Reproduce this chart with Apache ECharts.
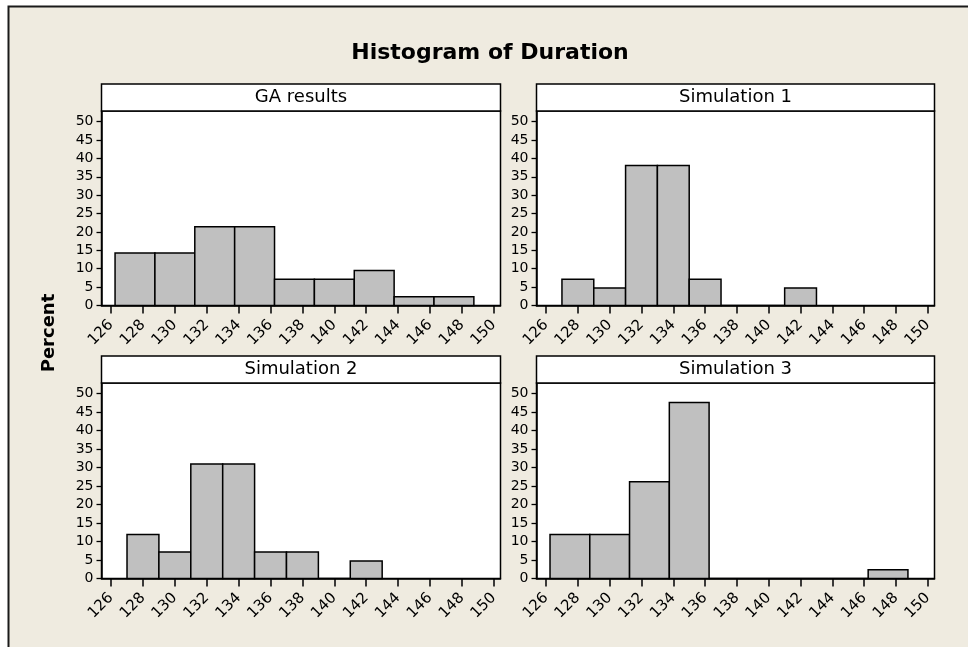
<!DOCTYPE html>
<html>
<head>
<meta charset="utf-8">
<script src="https://cdn.jsdelivr.net/npm/echarts@6/dist/echarts.min.js"></script>
<style>
  html, body { margin: 0; padding: 0; background: #ffffff; }
  #chart { width: 968px; height: 647px; }
</style>
</head>
<body>
<div id="chart"></div>
<script>
// ---- data ----
const chartTitle = 'Histogram of Duration';
const yAxisName = 'Percent';
const panelTitles = ['GA results', 'Simulation 1', 'Simulation 2', 'Simulation 3'];
const xTickValues = [126, 128, 130, 132, 134, 136, 138, 140, 142, 144, 146, 148, 150];
const yTickValues = [0, 5, 10, 15, 20, 25, 30, 35, 40, 45, 50];

// bin edges and percent of observations per bin (n = 42 runs each)
const gaEdges = [126.25, 128.75, 131.25, 133.75, 136.25, 138.75, 141.25, 143.75, 146.25, 148.75];
const gaPercent = [14.29, 14.29, 21.43, 21.43, 7.14, 7.14, 9.52, 2.38, 2.38];

const sim1Edges = [127, 129, 131, 133, 135, 137, 139, 141, 143];
const sim1Percent = [7.14, 4.76, 38.10, 38.10, 7.14, 0, 0, 4.76];

const sim2Edges = [127, 129, 131, 133, 135, 137, 139, 141, 143];
const sim2Percent = [11.90, 7.14, 30.95, 30.95, 7.14, 7.14, 0, 4.76];

const sim3Edges = [126.25, 128.75, 131.25, 133.75, 136.25, 138.75, 141.25, 143.75, 146.25, 148.75];
const sim3Percent = [11.90, 11.90, 26.19, 47.62, 0, 0, 0, 0, 2.38];

// ---- layout ----
const FONT = 'DejaVu Sans';
const xMin = 125.4, xMax = 150.42;
const yMin = 0, yMax = 52.9;
const stripH = 27;
const panels = [
  { left: 101.5, top: 111, width: 399, height: 194.5, edges: gaEdges, values: gaPercent },
  { left: 536.5, top: 111, width: 398, height: 194.5, edges: sim1Edges, values: sim1Percent },
  { left: 101.5, top: 383, width: 399, height: 195.5, edges: sim2Edges, values: sim2Percent },
  { left: 536.5, top: 383, width: 398, height: 195.5, edges: sim3Edges, values: sim3Percent }
];

function binRows(edges, values) {
  return values.map((v, i) => [edges[i], edges[i + 1], v]);
}

function renderBin(params, api) {
  const start = api.coord([api.value(0), api.value(2)]);
  const end = api.coord([api.value(1), 0]);
  return {
    type: 'rect',
    shape: { x: start[0], y: start[1], width: end[0] - start[0], height: end[1] - start[1] },
    style: { fill: '#c0c0c0', stroke: '#000000', lineWidth: 1.5 }
  };
}

const grids = [], xAxes = [], yAxes = [], series = [], graphics = [];

// beige page frame with dark top/left edge
graphics.push({
  type: 'rect', z: -10,
  shape: { x: 8.5, y: 6.5, width: 1000, height: 700 },
  style: { fill: '#efebe0', stroke: '#1a1a1a', lineWidth: 2 }
});
graphics.push({
  type: 'text', x: 490, y: 53,
  style: { text: chartTitle, font: 'bold 22px ' + FONT, fill: '#000', align: 'center', verticalAlign: 'middle' }
});
graphics.push({
  type: 'text', x: 49, y: 333, rotation: Math.PI / 2,
  style: { text: yAxisName, font: 'bold 18px ' + FONT, fill: '#000', align: 'center', verticalAlign: 'middle' }
});

panels.forEach((p, i) => {
  grids.push({
    left: p.left, top: p.top, width: p.width, height: p.height,
    show: true, backgroundColor: '#ffffff', borderColor: '#000000', borderWidth: 1.5
  });
  xAxes.push({
    type: 'value', gridIndex: i, min: xMin, max: xMax,
    axisLine: { show: true, onZero: false, lineStyle: { color: '#000', width: 1.5 } },
    axisTick: { show: true, customValues: xTickValues, length: 8, lineStyle: { color: '#000', width: 1.5 } },
    axisLabel: { customValues: xTickValues, rotate: 45, margin: 17, color: '#000', fontFamily: FONT, fontSize: 15 },
    splitLine: { show: false }
  });
  yAxes.push({
    type: 'value', gridIndex: i, min: yMin, max: yMax,
    axisLine: { show: true, lineStyle: { color: '#000', width: 1.5 } },
    axisTick: { show: true, customValues: yTickValues, length: 5, lineStyle: { color: '#000', width: 1.3 } },
    axisLabel: { customValues: yTickValues, margin: 8, color: '#000', fontFamily: FONT, fontSize: 14 },
    splitLine: { show: false }
  });
  series.push({
    type: 'custom', xAxisIndex: i, yAxisIndex: i,
    renderItem: renderBin,
    encode: { x: [0, 1], y: 2 },
    data: binRows(p.edges, p.values),
    silent: true, clip: false
  });
  // panel strip with its label
  graphics.push({
    type: 'rect', z: 5,
    shape: { x: p.left, y: p.top - stripH, width: p.width, height: stripH },
    style: { fill: '#ffffff', stroke: '#000000', lineWidth: 1.5 }
  });
  graphics.push({
    type: 'text', z: 6, x: p.left + p.width / 2, y: p.top - stripH / 2,
    style: { text: panelTitles[i], font: '18px ' + FONT, fill: '#000', align: 'center', verticalAlign: 'middle' }
  });
});

const chart = echarts.init(document.getElementById('chart'), null, { renderer: 'canvas' });
chart.setOption({
  backgroundColor: '#ffffff',
  animation: false,
  grid: grids,
  xAxis: xAxes,
  yAxis: yAxes,
  series: series,
  graphic: graphics
});
</script>
</body>
</html>
